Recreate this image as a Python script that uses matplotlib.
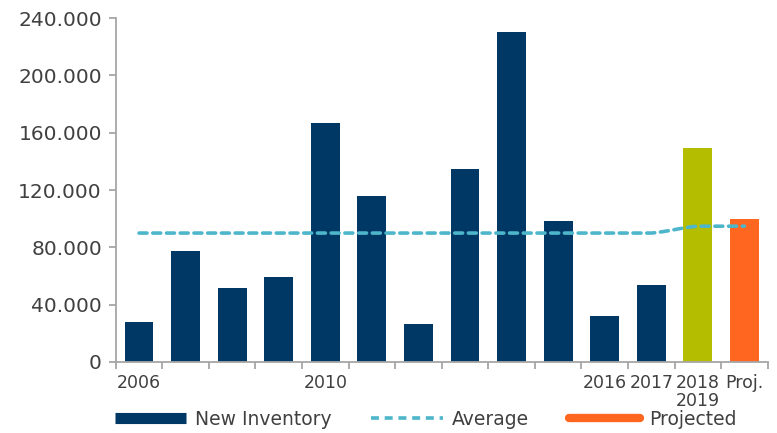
import numpy as np
import matplotlib
matplotlib.use("Agg")
import matplotlib.pyplot as plt
from matplotlib.path import Path
from matplotlib.patches import PathPatch
from matplotlib.lines import Line2D
from matplotlib.ticker import FuncFormatter

# data
categorias = ["2006", "2007", "2008", "2009", "2010", "2011", "2012", "2013",
              "2014", "2015", "2016", "2017", "2018", "Proj."]
etiquetas = ["2006", "", "", "", "2010", "", "", "", "", "", "2016", "2017",
             "2018\n2019", "Proj."]
inventario = [28000, 77700, 51700, 59300, 166800, 115900, 26600, 134800,
              230300, 98700, 32200, 53600, 149400, 100000]
promedio = [90000, 90000, 90000, 90000, 90000, 90000, 90000, 90000,
            90000, 90000, 90000, 90000, 94800, 94800]

AZUL = "#003865"
TURQUESA = "#4DB6CA"
LIMA = "#B5BD00"
NARANJA = "#FF6720"
GRIS = "#404040"
EJE = "#A6A6A6"

plt.rcParams['font.family'] = ['DejaVu Sans']

colores = [AZUL] * 12 + [LIMA, NARANJA]
x = np.arange(len(categorias))

fig = plt.figure(figsize=(7.77, 4.33), dpi=100)
ax = fig.add_axes([0.149, 0.164, 0.839, 0.794])

ax.bar(x, inventario, width=0.62, color=colores, zorder=2)

# linea suavizada del promedio (estilo Excel)
pts = np.column_stack([x, promedio]).astype(float)
verts = [tuple(pts[0])]
codes = [Path.MOVETO]
for i in range(len(pts) - 1):
    p0 = pts[max(i - 1, 0)]
    p1 = pts[i]
    p2 = pts[i + 1]
    p3 = pts[min(i + 2, len(pts) - 1)]
    c1 = p1 + (p2 - p0) / 6.0
    c2 = p2 - (p3 - p1) / 6.0
    if p1[1] == p2[1]:
        c1[1] = c2[1] = p1[1]
    verts += [tuple(c1), tuple(c2), tuple(p2)]
    codes += [Path.CURVE4] * 3
linea = PathPatch(Path(verts, codes), fill=False, edgecolor=TURQUESA, lw=2.6,
                  linestyle=(0, (2.2, 1.6)), capstyle='round', zorder=3)
ax.add_patch(linea)

ax.set_xlim(-0.5, len(categorias) - 0.5)
ax.set_ylim(0, 240000)
ax.set_yticks(np.arange(0, 240001, 40000))
ax.yaxis.set_major_formatter(FuncFormatter(lambda v, p: f"{int(v):,}".replace(",", ".")))

ax.set_xticks(x)
ax.set_xticklabels(etiquetas, fontsize=12.5, color=GRIS, linespacing=0.95)
ax.set_xticks(np.arange(-0.5, len(categorias), 1), minor=True)
ax.tick_params(axis='x', which='major', length=0, pad=9)
ax.tick_params(axis='x', which='minor', length=5, color=EJE, width=1.3)
ax.tick_params(axis='y', length=5, color=EJE, width=1.3, labelsize=14.5,
               labelcolor=GRIS, pad=5)

for s in ["top", "right"]:
    ax.spines[s].set_visible(False)
for s in ["left", "bottom"]:
    ax.spines[s].set_color(EJE)
    ax.spines[s].set_linewidth(1.3)

manijas = [
    Line2D([], [], color=AZUL, lw=8, solid_capstyle='butt'),
    Line2D([], [], color=TURQUESA, lw=2.6, linestyle=(0, (2.2, 1.6))),
    Line2D([], [], color=NARANJA, lw=6, solid_capstyle='round'),
]
fig.legend(manijas, ["New Inventory", "Average", "Projected"], ncol=3,
           loc='center', bbox_to_anchor=(0.548, 0.032), frameon=False,
           fontsize=13.5, handlelength=3.8, columnspacing=2.1, handletextpad=0.5,
           labelcolor=GRIS, borderpad=0.1)

fig.savefig("out.png", dpi=100)
